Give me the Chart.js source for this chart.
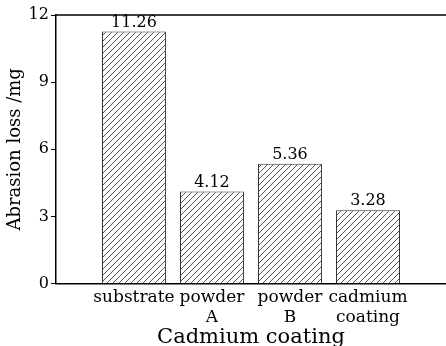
<!DOCTYPE html>
<html lang="en">
<head>
  <meta charset="UTF-8">
  <title>Abrasion loss</title>
  <script src="https://cdn.jsdelivr.net/npm/chart.js@4.4.1/dist/chart.umd.min.js"></script>
  <style>
    html, body { margin: 0; padding: 0; background: #fff; }
    .chart-container { width: 446px; height: 346px; }
  </style>
</head>
<body>
<div class="chart-container">
  <canvas id="chart"></canvas>
</div>
<script>
  const categories = [['substrate'], ['powder', 'A'], ['powder', 'B'], ['cadmium', 'coating']];
  const abrasionLoss = [11.26, 4.12, 5.36, 3.28];
  const valueLabels = ['11.26', '4.12', '5.36', '3.28'];
  const yTicks = [0, 3, 6, 9, 12];

  const serif = '"DejaVu Serif", "Liberation Serif", serif';

  // empty slot on each side so bars sit away from the axes
  const labels = ['', ...categories, ''];
  const values = [null, ...abrasionLoss, null];
  const shown = [null, ...valueLabels, null];

  function hatch() {
    const s = 6;
    const c = document.createElement('canvas');
    c.width = s; c.height = s;
    const g = c.getContext('2d');
    g.fillStyle = '#fff';
    g.fillRect(0, 0, s, s);
    g.strokeStyle = '#555';
    g.lineWidth = 1;
    g.beginPath();
    g.moveTo(0, s); g.lineTo(s, 0);
    g.moveTo(-1, 1); g.lineTo(1, -1);
    g.moveTo(s - 1, s + 1); g.lineTo(s + 1, s - 1);
    g.stroke();
    return g.createPattern(c, 'repeat');
  }

  const valueTags = {
    id: 'valueTags',
    afterDatasetsDraw(chart) {
      const ctx = chart.ctx;
      const meta = chart.getDatasetMeta(0);
      ctx.save();
      ctx.font = '16px ' + serif;
      ctx.fillStyle = '#000';
      ctx.textAlign = 'center';
      ctx.textBaseline = 'bottom';
      meta.data.forEach((bar, i) => {
        if (shown[i] == null) return;
        ctx.fillText(shown[i], bar.x, bar.y - 1);
      });
      ctx.restore();
    }
  };

  const topLine = {
    id: 'topLine',
    afterDraw(chart) {
      const a = chart.chartArea;
      const ctx = chart.ctx;
      ctx.save();
      ctx.strokeStyle = '#000';
      ctx.lineWidth = 1.5;
      ctx.beginPath();
      ctx.moveTo(a.left, a.top);
      ctx.lineTo(chart.width, a.top);
      ctx.moveTo(a.right, a.bottom);
      ctx.lineTo(chart.width, a.bottom);
      ctx.stroke();
      ctx.restore();
    }
  };

  new Chart(document.getElementById('chart'), {
    type: 'bar',
    data: {
      labels: labels,
      datasets: [{
        data: values,
        backgroundColor: hatch(),
        borderColor: '#333',
        borderWidth: 1,
        barPercentage: 0.82,
        categoryPercentage: 1
      }]
    },
    options: {
      responsive: true,
      maintainAspectRatio: false,
      animation: false,
      layout: { padding: { top: 15, right: 0, left: 5, bottom: 0 } },
      plugins: { legend: { display: false }, tooltip: { enabled: false } },
      scales: {
        x: {
          offset: false,
          afterFit(scale) { scale.paddingRight = 0; },
          grid: { display: false, drawTicks: false },
          border: { color: '#000', width: 1.5 },
          ticks: {
            color: '#000',
            font: { family: serif, size: 17, lineHeight: 1.18 },
            maxRotation: 0,
            autoSkip: false,
            padding: 4
          },
          title: {
            display: true,
            text: 'Cadmium coating',
            color: '#000',
            font: { family: serif, size: 21 },
            padding: { top: -7, bottom: -4 }
          }
        },
        y: {
          min: 0,
          max: 12,
          afterBuildTicks(scale) { scale.ticks = yTicks.map(v => ({ value: v })); },
          grid: { drawOnChartArea: false, drawTicks: true, tickLength: 5, color: '#000' },
          border: { color: '#000', width: 1.5 },
          ticks: {
            color: '#000',
            font: { family: serif, size: 16 },
            padding: 2
          },
          title: {
            display: true,
            text: 'Abrasion loss /mg',
            color: '#000',
            font: { family: serif, size: 18 },
            padding: { top: 0, bottom: 0 }
          }
        }
      }
    },
    plugins: [valueTags, topLine]
  });
</script>
</body>
</html>
